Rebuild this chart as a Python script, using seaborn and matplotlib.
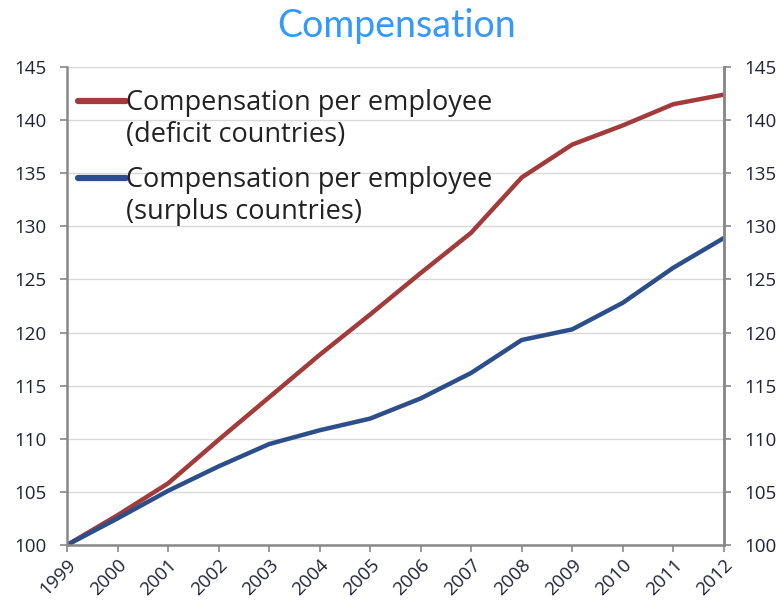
import matplotlib
matplotlib.use("Agg")
import matplotlib.pyplot as plt
import matplotlib.transforms as mtransforms
import seaborn as sns
import pandas as pd

years = [1999, 2000, 2001, 2002, 2003, 2004, 2005, 2006, 2007, 2008, 2009, 2010, 2011, 2012]
deficit = [100.0, 102.8, 105.8, 109.9, 113.9, 117.9, 121.7, 125.6, 129.4, 134.6, 137.7, 139.5, 141.5, 142.4]
surplus = [100.0, 102.5, 105.1, 107.4, 109.5, 110.8, 111.9, 113.8, 116.2, 119.3, 120.3, 122.8, 126.1, 128.9]
series_names = ["Compensation per employee\n(deficit countries)",
                "Compensation per employee\n(surplus countries)"]
y_ticks = [100, 105, 110, 115, 120, 125, 130, 135, 140, 145]

df = pd.DataFrame({
    "year": years * 2,
    "value": deficit + surplus,
    "series": [series_names[0]] * len(years) + [series_names[1]] * len(years),
})

sns.set_theme(style="white")
plt.rcParams["font.family"] = ["Open Sans", "DejaVu Sans"]

fig = plt.figure(figsize=(7.8, 6.04), dpi=100)
ax = fig.add_axes([0.0859, 0.0977, 0.842, 0.7913])

palette = {series_names[0]: "#A23B3A", series_names[1]: "#2C4F8C"}
sns.lineplot(data=df, x="year", y="value", hue="series", palette=palette,
             linewidth=3.2, ax=ax, legend=True)

label_color = "#22223a"
tick_size = 13.5

ax.set_xlim(1999, 2012)
ax.set_ylim(100, 145)
ax.set_yticks(y_ticks)
ax.set_xticks(years)
ax.set_xticklabels([str(y) for y in years], rotation=45, ha="right",
                   rotation_mode="anchor", fontsize=tick_size, color=label_color)
ax.tick_params(axis="y", labelsize=tick_size, labelcolor=label_color, pad=10)
ax.tick_params(axis="x", pad=3)
ax.set_xlabel("")
ax.set_ylabel("")

ax.grid(axis="y", color="#d9d9d9", linewidth=1)
ax.set_axisbelow(True)

for side in ["left", "bottom", "right"]:
    ax.spines[side].set_visible(True)
    ax.spines[side].set_color("#888888")
    ax.spines[side].set_linewidth(1.8)
ax.spines["top"].set_visible(False)
ax.tick_params(axis="both", which="major", direction="out", length=5,
               width=1.2, color="#888888", left=True, bottom=True)

ax2 = ax.twinx()
ax2.set_ylim(100, 145)
ax2.set_yticks(y_ticks)
ax2.tick_params(axis="y", labelsize=tick_size, labelcolor=label_color, direction="out",
                length=5, width=1.2, color="#888888", right=True, pad=10)
for side in ["left", "bottom", "top"]:
    ax2.spines[side].set_visible(False)
ax2.spines["right"].set_color("#888888")
ax2.spines["right"].set_linewidth(1.8)
ax2.grid(False)

leg = ax.legend(loc="upper left", frameon=False, fontsize=19.5,
                handlelength=1.8, handletextpad=0.0, labelspacing=0.62,
                bbox_to_anchor=(0.016, 0.955), borderaxespad=0.0, borderpad=0.0)
# keep each legend swatch level with the first line of its two-line label
lift = mtransforms.ScaledTranslation(0, 0.19, fig.dpi_scale_trans)
for line in leg.get_lines():
    line.set_linewidth(4.5)
    line.set_transform(line.get_transform() + lift)
for txt in leg.get_texts():
    txt.set_color("#222222")

fig.text(0.508, 0.957, "Compensation", ha="center", va="center",
         fontsize=27, color="#3399FF", family=["Lato", "DejaVu Sans"])

fig.savefig("out.png", dpi=100)
